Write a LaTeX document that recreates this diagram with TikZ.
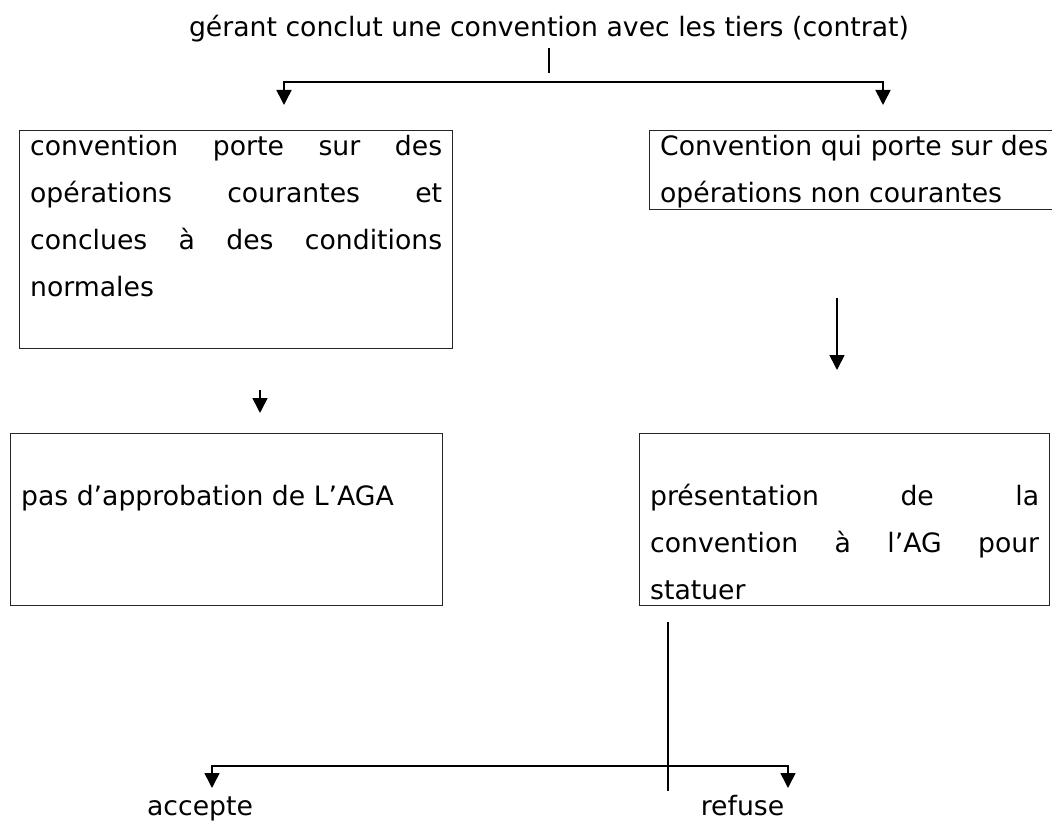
\documentclass[tikz,border=0pt]{standalone}
\usepackage{fontspec}
\setmainfont{DejaVu Sans}
\usetikzlibrary{arrows.meta}

\tikzset{
  boite/.style={draw=black!85, line width=1.3pt, inner xsep=10.5pt, inner ysep=0pt, anchor=north west},
  trait/.style={line width=1.6pt},
  fleche/.style={trait, -{Triangle[length=15pt,width=15pt]}},
  fleches/.style={trait, {Triangle[length=15pt,width=15pt]}-{Triangle[length=15pt,width=15pt]}},
  etiq/.style={anchor=base, inner sep=0pt}
}
% strut for the first line of a box
\newcommand{\hautligne}{\rule{0pt}{25pt}}

\begin{document}
\begin{tikzpicture}[x=1pt, y=-1pt, every node/.style={font=\fontsize{26.67pt}{47pt}\selectfont}]
\useasboundingbox (0,0) rectangle (1052,821);

% texts
\node[etiq] (titre) at (549,37) {gérant conclut une convention avec les tiers (contrat)};
\node[etiq] (accepte) at (200,815) {accepte};
\node[etiq] (refuse) at (742.5,815) {refuse};

% boxes
\node[boite] (courantes) at (19,130) {\parbox[t][218pt][t]{412pt}{\hautligne convention porte sur des\linebreak opérations courantes et\linebreak conclues à des conditions\linebreak normales}};
\node[boite] (noncour) at (649,130) {\parbox[t][79pt][t]{388pt}{\hautligne Convention qui porte sur des\linebreak opérations non courantes}};
\node[boite] (pasaga) at (10,433) {\parbox[t][172pt][t]{411pt}{\hautligne\par pas d’approbation de L’AGA}};
\node[boite] (presag) at (639,433) {\parbox[t][172pt][t]{389pt}{\hautligne\par présentation de la\linebreak convention à l’AG pour\linebreak statuer}};

% free ends
\coordinate (t1) at (549,48);
\coordinate (t2) at (549,73);
\coordinate (g1) at (284,105);
\coordinate (d1) at (883,105);
\coordinate (g2a) at (260,390);
\coordinate (g2b) at (260,413);
\coordinate (d2a) at (837,298);
\coordinate (d2b) at (837,370);
\coordinate (b1) at (668,622);
\coordinate (b2) at (668,791);
\coordinate (acc) at (212,788);
\coordinate (ref) at (788,788);

% connectors
\draw[trait] (t1) -- (t2);
\draw[fleches] (g1) -- ++(0,-23) -| (d1);
\draw[fleche] (g2a) -- (g2b);
\draw[fleche] (d2a) -- (d2b);
\draw[trait] (b1) -- (b2);
\draw[fleches] (acc) -- ++(0,-22) -| (ref);
\end{tikzpicture}
\end{document}
